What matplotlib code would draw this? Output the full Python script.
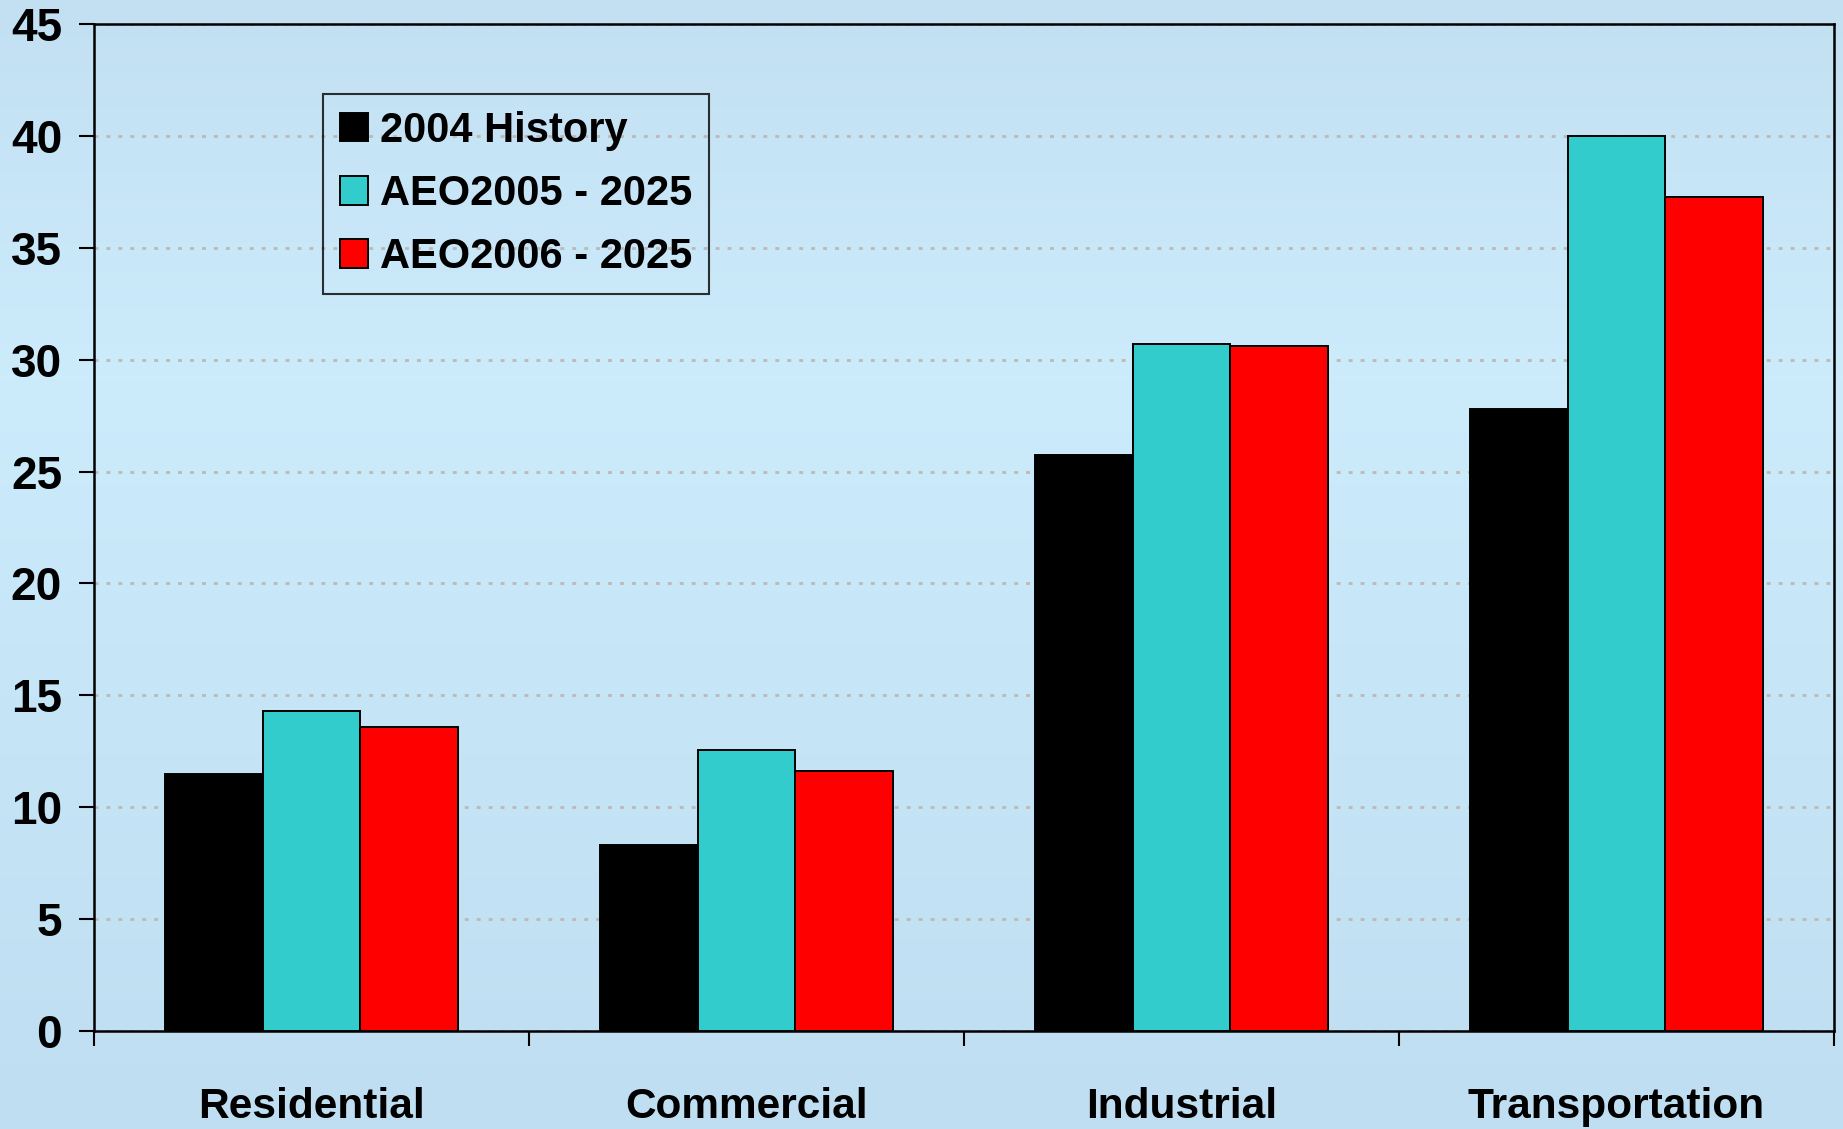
import numpy as np
import matplotlib
matplotlib.use("Agg")
import matplotlib.pyplot as plt
from matplotlib.colors import LinearSegmentedColormap

categories = ["Residential", "Commercial", "Industrial", "Transportation"]
series_names = ["2004 History", "AEO2005 - 2025", "AEO2006 - 2025"]
hist_2004 = [11.5, 8.3, 25.75, 27.8]
aeo2005 = [14.3, 12.55, 30.7, 40.0]
aeo2006 = [13.6, 11.6, 30.6, 37.25]
colors = ["#000000", "#33CCCC", "#FF0000"]
yticks = [0, 5, 10, 15, 20, 25, 30, 35, 40, 45]

plt.rcParams['font.family'] = ['Liberation Sans', 'DejaVu Sans']

W, H = 1843, 1129
fig = plt.figure(figsize=(W / 100, H / 100), dpi=100)

# background gradient
bg = fig.add_axes([0, 0, 1, 1], zorder=-10)
cmap = LinearSegmentedColormap.from_list(
    "bg", ["#C2E0F2", "#CCEBFB", "#C5E4F6", "#BFDEF1"][::-1])
grad = np.linspace(0, 1, 256).reshape(-1, 1)
bg.imshow(grad, aspect="auto", cmap=cmap, extent=[0, 1, 0, 1], origin="lower")
bg.set_axis_off()

left, right = 94 / W, 1834 / W
bottom, top = 1 - 1031 / H, 1 - 24 / H
ax = fig.add_axes([left, bottom, right - left, top - bottom])
ax.set_facecolor("none")

w = 0.224
x = np.arange(len(categories))
for j, (vals, c, name) in enumerate(zip([hist_2004, aeo2005, aeo2006], colors, series_names)):
    ax.bar(x + (j - 1) * w, vals, width=w, color=c, edgecolor="black",
           linewidth=1.4, label=name, zorder=3)

ax.set_xlim(-0.5, len(categories) - 0.5)
ax.set_ylim(0, 45)
ax.set_yticks(yticks)
ax.set_yticklabels([str(t) for t in yticks], fontsize=33, fontweight="bold")
ax.yaxis.grid(True, color="#BDB8B8", linestyle=(0, (1.4, 2.9)), linewidth=2.0, zorder=1)
ax.set_axisbelow(True)

ax.set_xticks(np.arange(-0.5, len(categories), 1.0))
ax.set_xticklabels([])
ax.set_xticks(x, minor=True)
ax.set_xticklabels(categories, minor=True, fontsize=30.5, fontweight="bold")
ax.tick_params(axis="x", which="minor", length=0, pad=40)
ax.tick_params(axis="x", which="major", direction="out", length=11, width=1.5)
ax.tick_params(axis="y", direction="out", length=11, width=1.5, pad=12)

for s in ax.spines.values():
    s.set_linewidth(1.8)
    s.set_color("black")

leg = ax.legend(loc="upper left", bbox_to_anchor=((323 - 94) / (1834 - 94), 1 - (94 - 24) / (1031 - 24)),
                prop={"size": 30, "weight": "bold"}, frameon=True, fancybox=False,
                handlelength=0.68, handleheight=0.68, handletextpad=0.28,
                labelspacing=0.56, borderpad=0.4, borderaxespad=0)
leg.get_frame().set_edgecolor("black")
leg.get_frame().set_linewidth(1.5)
leg.get_frame().set_facecolor("none")

fig.savefig("out.png", dpi=100)
